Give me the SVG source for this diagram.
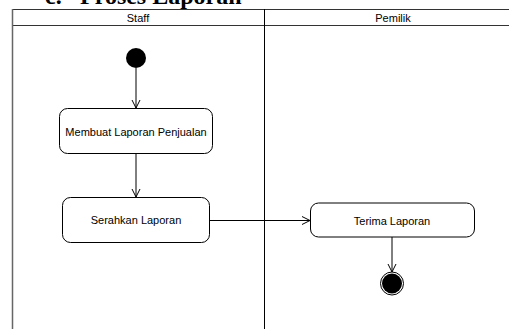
<svg xmlns="http://www.w3.org/2000/svg" width="509" height="329" viewBox="0 0 509 329">
<style>
.lbl{font-family:"Liberation Sans",Arial,sans-serif;font-size:11px;fill:#000;text-anchor:middle;dominant-baseline:central}
.act{fill:#fff;stroke:#000;stroke-width:1}
.edge{fill:none;stroke:#000;stroke-width:1}
</style>
<defs>
<marker id="arr" markerWidth="10" markerHeight="10" refX="9" refY="5" orient="auto" markerUnits="userSpaceOnUse">
<path d="M1,1 L9,5 L1,9" fill="none" stroke="#000" stroke-width="1"/>
</marker>
</defs>
<rect width="509" height="329" fill="#fff"/>
<text x="45" y="4" font-family="'Liberation Serif','Times New Roman',serif" font-size="24" font-weight="bold" fill="#000">c.</text>
<text x="80" y="4" font-family="'Liberation Serif','Times New Roman',serif" font-size="24" font-weight="bold" fill="#000">Proses Laporan</text>
<g id="lanes">
<line x1="12" y1="9.5" x2="509" y2="9.5" stroke="#333" stroke-width="1"/>
<line x1="12" y1="25.5" x2="509" y2="25.5" stroke="#333" stroke-width="1"/>
<line x1="12.5" y1="9" x2="12.5" y2="329" stroke="#666" stroke-width="1.5"/>
<line x1="264.5" y1="9" x2="264.5" y2="329" stroke="#000" stroke-width="1"/>
<text class="lbl" x="138" y="18">Staff</text>
<text class="lbl" x="393" y="18">Pemilik</text>
</g>
<g id="connectors">
<line class="edge" x1="136" y1="68" x2="136" y2="108" marker-end="url(#arr)"/>
<line class="edge" x1="136" y1="153" x2="136" y2="197" marker-end="url(#arr)"/>
<line class="edge" x1="209" y1="220.5" x2="310" y2="220.5" marker-end="url(#arr)"/>
<line class="edge" x1="392" y1="237" x2="392" y2="272" marker-end="url(#arr)"/>
</g>
<g id="start">
<circle cx="136" cy="58" r="10" fill="#000"/>
</g>
<g id="membuat">
<rect class="act" x="59.5" y="108.5" width="153" height="45" rx="8"/>
<text class="lbl" x="136" y="132">Membuat Laporan Penjualan</text>
</g>
<g id="serahkan">
<rect class="act" x="62.5" y="197.5" width="147" height="45" rx="8"/>
<text class="lbl" x="136" y="220">Serahkan Laporan</text>
</g>
<g id="terima">
<rect class="act" x="310.5" y="203" width="164" height="34" rx="8"/>
<text class="lbl" x="392" y="220.5">Terima Laporan</text>
</g>
<g id="end">
<circle cx="392" cy="283.5" r="11.5" fill="#fff" stroke="#000" stroke-width="1"/>
<circle cx="392" cy="283.5" r="10" fill="#000"/>
</g>
</svg>
